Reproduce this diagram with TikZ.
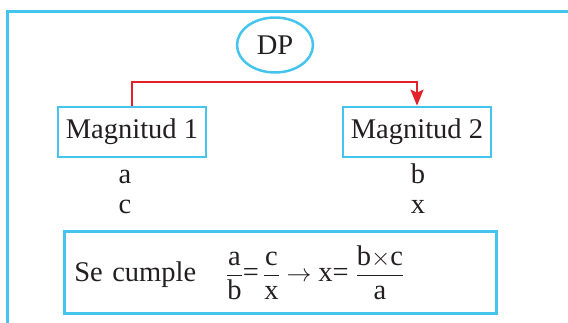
\documentclass[tikz,border=0pt]{standalone}
\usepackage{amsmath}
\usepackage{fontspec}
\setmainfont{Liberation Serif}
\usepackage{tikz}
\usetikzlibrary{shapes.geometric,arrows.meta,positioning,calc}
\definecolor{skyline}{HTML}{45C4EE}
\definecolor{redlink}{HTML}{E32128}
\definecolor{inkcol}{HTML}{231F20}
\newcommand{\fr}[2]{\dfrac{\text{#1}}{\text{#2}}}

\begin{document}
\begin{tikzpicture}[
    x=1pt, y=-1pt,
    txt/.style={font=\fontsize{28.5}{33}\selectfont, text=inkcol, inner sep=0pt},
    magbox/.style={txt, rectangle, draw=skyline, line width=2.7pt,
                   minimum width=148pt, minimum height=50pt},
    dpoval/.style={txt, ellipse, draw=skyline, line width=2.5pt,
                   minimum width=76pt, minimum height=55pt},
    formbox/.style={txt, rectangle, draw=skyline, line width=2.7pt, align=left,
                    text width=412pt, inner xsep=10pt, minimum height=82pt},
    frame/.style={draw=skyline, line width=2.7pt},
    redarrow/.style={-{Stealth[length=16pt, width=13pt, inset=3pt]}, line width=2.3pt, color=redlink},
]
\useasboundingbox (0,0) rectangle (568,322);

% ── Outer frame (open to the right and bottom) ───────────────────────────
\coordinate (fbot) at (7.7,330);
\coordinate (fcorner) at (7.7,11.3);
\coordinate (fright) at (575,11.3);
\draw[frame] (fbot) -- (fcorner) -- (fright);

% ── Proportion type ──────────────────────────────────────────────────────
\node[dpoval] (dp) at (275,45) {DP};

% ── Magnitudes ──────────────────────────────────────────────────────────
\node[magbox] (mag1) at (132,132) {Magnitud 1};
\node[magbox] (mag2) at (417,132) {Magnitud 2};

% ── Values under each magnitude ─────────────────────────────────────────
\node[txt, anchor=base] (va) at (125,183) {a};
\node[txt, anchor=base] (vc) at (125,213) {c};
\node[txt, anchor=base] (vb) at (418,183) {b};
\node[txt, anchor=base] (vx) at (418,213) {x};

% ── Link between magnitudes ─────────────────────────────────────────────
\draw[redarrow] (mag1.north) -- ++(0,-24) -| (mag2.north);

% ── Rule ────────────────────────────────────────────────────────────────
\node[formbox, anchor=north west] (rule) at (63,230)
    {Se cumple\hspace{30pt}$\fr{a}{b}\text{=}\,\fr{c}{x}\rightarrow\text{x=}\;\fr{b$\times$c}{a}$};

\end{tikzpicture}
\end{document}
